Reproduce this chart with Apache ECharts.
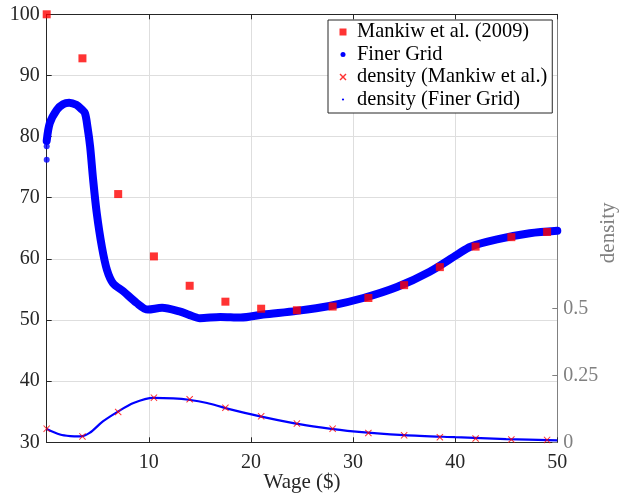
<!DOCTYPE html>
<html>
<head>
<meta charset="utf-8">
<script src="https://cdn.jsdelivr.net/npm/echarts@6/dist/echarts.min.js"></script>
<style>html,body{margin:0;padding:0;background:#fff;}#c{width:624px;height:495px;}</style>
</head>
<body>
<div id="c"></div>
<script>
// Mankiw et al. (2009) grid
const mankiwWage = [0, 3.5, 7, 10.5, 14, 17.5, 21, 24.5, 28, 31.5, 35, 38.5, 42, 45.5, 49];
const mankiwRate = [100, 92.8, 70.6, 60.4, 55.6, 53.0, 51.85, 51.6, 52.2, 53.6, 55.7, 58.65, 62.0, 63.55, 64.4];
const mankiwDensity = [0.051, 0.022, 0.113, 0.167, 0.161, 0.129, 0.097, 0.070, 0.051, 0.035, 0.026, 0.019, 0.014, 0.0105, 0.009];
// Finer grid
const fineWage = [0, 0.3, 1.0, 1.6, 2.2, 2.9, 3.4, 3.75, 4.0, 4.25, 4.55, 4.9, 5.4, 5.9, 6.5, 7.5, 8.8, 9.9, 11.3, 13.0, 14.0, 15.0, 17.0, 19.0, 21.2, 24.5, 27.7, 31.0, 34.3, 37.5, 40.2, 41.5, 44.1, 47.3, 50];
const fineRate = [79.3, 82.2, 84.4, 85.3, 85.55, 85.2, 84.5, 83.8, 81.5, 78.4, 72.9, 67.5, 62.0, 58.2, 56.0, 54.7, 52.8, 51.7, 52.0, 51.4, 50.8, 50.3, 50.5, 50.4, 50.9, 51.5, 52.3, 53.6, 55.4, 57.9, 60.7, 62.0, 63.2, 64.2, 64.6];
const fineStartWage = [0, 0];
const fineStartRate = [76.2, 78.4];
const densWage = [0, 1.3, 2.3, 3.3, 4.2, 5.5, 6.9, 8.5, 10.45, 12.4, 13.9, 15.7, 17.5, 20.9, 24.4, 26.8, 30, 35, 40, 45, 50];
const densValue = [0.050, 0.029, 0.023, 0.022, 0.035, 0.078, 0.113, 0.147, 0.166, 0.164, 0.159, 0.147, 0.128, 0.097, 0.070, 0.056, 0.041, 0.027, 0.019, 0.012, 0.0075];
const xTicks = [10, 20, 30, 40, 50];
const densityTicks = [0, 0.25, 0.5];
const legendNames = ['Mankiw et al. (2009)', 'Finer Grid', 'density (Mankiw et al.)', 'density (Finer Grid)'];

const zip = (a, b) => a.map((v, i) => [v, b[i]]);
const FONT = 'Liberation Serif';
const DARK = '#262626';
const GRAY = '#808080';
const GRID = '#dedede';
const xPath = 'path://M0,1 L1,0 L5,4 L9,0 L10,1 L6,5 L10,9 L9,10 L5,6 L1,10 L0,9 L4,5 Z';
// legend icons in a 180x80 box (aspect = itemWidth:itemHeight)
const box = 'M0,0 L0,0 M180,80 L180,80 ';
const iconSquare = 'path://' + box + 'M55,5 L125,5 L125,75 L55,75 Z';
const iconCircle = 'path://' + box + 'M65,40 A25,25 0 1,0 115,40 A25,25 0 1,0 65,40 Z';
const iconX = 'path://' + box + 'M55,15 L65,5 L90,30 L115,5 L125,15 L100,40 L125,65 L115,75 L90,50 L65,75 L55,65 L80,40 Z';
const iconDot = 'path://' + box + 'M79,40 A11,11 0 1,0 101,40 A11,11 0 1,0 79,40 Z';

const chart = echarts.init(document.getElementById('c'), null, {renderer: 'canvas'});
chart.setOption({
  animation: false,
  backgroundColor: '#fff',
  textStyle: {fontFamily: FONT},
  grid: {left: 46.7, right: 66.7, top: 14.3, bottom: 52.7, containLabel: false, outerBoundsMode: 'none'},
  legend: {
    orient: 'vertical', left: 328, top: 20,
    padding: [2, 5, 3.5, 6], itemGap: 2.5, itemWidth: 18, itemHeight: 8,
    borderColor: DARK, borderWidth: 1, backgroundColor: '#fff',
    selectedMode: false,
    textStyle: {fontFamily: FONT, fontSize: 20.4, color: '#000'},
    data: [
      {name: legendNames[0], icon: iconSquare},
      {name: legendNames[1], icon: iconCircle},
      {name: legendNames[2], icon: iconX},
      {name: legendNames[3], icon: iconDot}
    ]
  },
  xAxis: [{
    type: 'value', min: 0, max: 50, interval: 10, position: 'bottom',
    name: 'Wage ($)', nameLocation: 'middle', nameGap: 30, nameMoveOverlap: false,
    nameTextStyle: {fontFamily: FONT, fontSize: 21, color: DARK},
    axisLine: {show: true, onZero: false, lineStyle: {color: DARK, width: 1}},
    axisTick: {show: true, inside: true, length: 5, lineStyle: {color: DARK}},
    axisLabel: {customValues: xTicks, fontFamily: FONT, fontSize: 20, color: DARK, margin: 10},
    splitLine: {show: true, lineStyle: {color: GRID, width: 1}}
  }, {
    type: 'value', min: 0, max: 50, interval: 10, position: 'top',
    axisLine: {show: true, onZero: false, lineStyle: {color: DARK, width: 1}},
    axisTick: {show: true, inside: true, length: 5, lineStyle: {color: DARK}},
    axisLabel: {show: false}, splitLine: {show: false}
  }],
  yAxis: [{
    type: 'value', min: 30, max: 100, interval: 10, position: 'left',
    axisLine: {show: true, onZero: false, lineStyle: {color: DARK, width: 1}},
    axisTick: {show: true, inside: true, length: 5, lineStyle: {color: DARK}},
    axisLabel: {fontFamily: FONT, fontSize: 20, color: DARK, margin: 7},
    splitLine: {show: true, lineStyle: {color: GRID, width: 1}}
  }, {
    type: 'value', min: 0, max: 1.6, position: 'right',
    name: 'density', nameLocation: 'middle', nameRotate: 90, nameGap: 41, nameMoveOverlap: false,
    nameTextStyle: {fontFamily: FONT, fontSize: 21, color: GRAY, padding: [0, 9, 0, 0]},
    axisLine: {show: true, onZero: false, lineStyle: {color: GRAY, width: 1}},
    axisTick: {show: true, inside: true, length: 5, customValues: densityTicks, lineStyle: {color: GRAY}},
    axisLabel: {customValues: densityTicks, fontFamily: FONT, fontSize: 20, color: GRAY, margin: 6},
    splitLine: {show: false}
  }],
  series: [{
    name: legendNames[1], type: 'line', xAxisIndex: 0, yAxisIndex: 0, z: 2,
    data: zip(fineWage, fineRate), symbol: 'none', smooth: 0.3,
    lineStyle: {color: '#0000ff', width: 8, cap: 'round', join: 'round'},
    itemStyle: {color: '#0000ff'}, clip: false
  }, {
    name: legendNames[1], type: 'scatter', xAxisIndex: 0, yAxisIndex: 0, z: 2,
    data: zip(fineStartWage, fineStartRate), symbol: 'circle', symbolSize: 6,
    itemStyle: {color: '#0000ff'}, clip: false
  }, {
    name: legendNames[0], type: 'scatter', xAxisIndex: 0, yAxisIndex: 0, z: 4,
    data: zip(mankiwWage, mankiwRate), symbol: 'rect', symbolSize: 8,
    itemStyle: {color: '#ff0000'}, clip: false
  }, {
    name: legendNames[3], type: 'line', xAxisIndex: 0, yAxisIndex: 1, z: 2,
    data: zip(densWage, densValue), symbol: 'none', smooth: 0.3,
    lineStyle: {color: '#0000ff', width: 2.2},
    itemStyle: {color: '#0000ff'}, clip: false
  }, {
    name: legendNames[2], type: 'scatter', xAxisIndex: 0, yAxisIndex: 1, z: 4,
    data: zip(mankiwWage, mankiwDensity), symbol: xPath, symbolSize: 7,
    itemStyle: {color: '#ff0000'}, clip: false
  }]
});
</script>
</body>
</html>
